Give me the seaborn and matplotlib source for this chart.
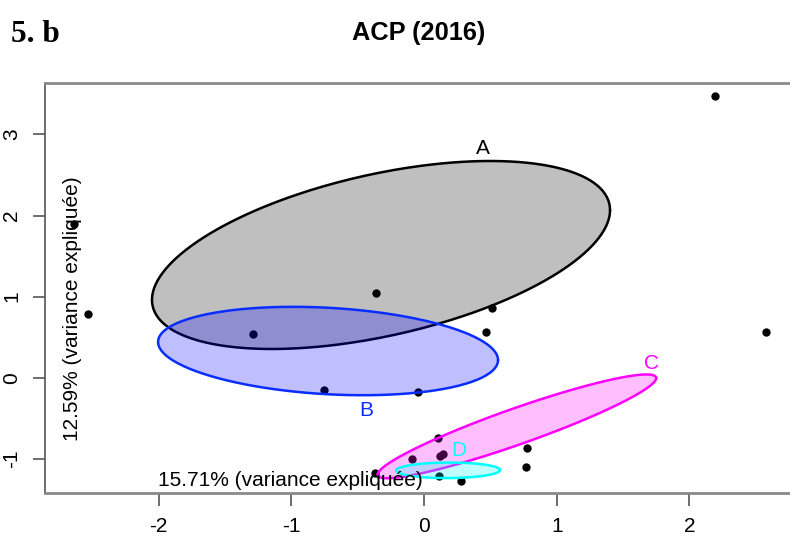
import numpy as np
import pandas as pd
import matplotlib
matplotlib.use("Agg")
import matplotlib.pyplot as plt
import seaborn as sns

# ---- data ----
pt_x = [2.19, 2.58, -0.36, 0.515, 0.465, -1.286, -2.53, -2.64, -0.751, -0.047,
        0.103, -0.093, 0.12, 0.145, -0.37, 0.115, 0.277, 0.778, 0.77]
pt_y = [3.47, 0.56, 1.05, 0.86, 0.56, 0.54, 0.78, 1.89, -0.15, -0.18,
        -0.747, -1.0, -0.97, -0.94, -1.17, -1.21, -1.27, -0.87, -1.10]

groups = ["A", "B", "C", "D"]
ell_cx = [-0.324, -0.723, 0.70, 0.181]
ell_cy = [1.513, 0.329, -0.60, -1.142]
ell_sx = [1.726, 1.281, 1.05, 0.392]
ell_sy = [1.159, 0.545, 0.64, 0.096]
ell_r = [0.477, -0.205, 0.93, 0.03]
ell_edge = ["#000000", "#0A2DFF", "#FF00FF", "#00FFFF"]
ell_fill = ["#000000", "#0000FF", "#FF00FF", "#00FFFF"]
lab_x = [0.442, -0.432, 1.716, 0.264]
lab_y = [2.82, -0.407, 0.178, -0.892]

x_ticks = [-2, -1, 0, 1, 2]
y_ticks = [-1, 0, 1, 2, 3]

sns.set_style("white")
plt.rcParams["font.family"] = ["Liberation Sans", "DejaVu Sans"]
plt.rcParams["text.color"] = "black"
plt.rcParams["xtick.color"] = "black"
plt.rcParams["ytick.color"] = "black"

fig = plt.figure(figsize=(7.9, 5.48), dpi=100)
W, H = 790, 548
left_px, right_px, top_px, bot_px = 45, 800, 83, 493
ax = fig.add_axes([left_px / W, (H - bot_px) / H, (right_px - left_px) / W, (bot_px - top_px) / H])

df = pd.DataFrame({"x": pt_x, "y": pt_y})
sns.scatterplot(data=df, x="x", y="y", ax=ax, color="black", s=36, linewidth=0, zorder=2)

t = np.linspace(0, 2 * np.pi, 300)
for i, g in enumerate(groups):
    sx, sy, r = ell_sx[i], ell_sy[i], ell_r[i]
    ex = ell_cx[i] + sx * np.cos(t)
    ey = ell_cy[i] + r * sy * np.cos(t) + sy * np.sqrt(1 - r ** 2) * np.sin(t)
    ax.fill(ex, ey, color=ell_fill[i], alpha=0.25, linewidth=0, zorder=3 + i)
    ax.plot(ex, ey, color=ell_edge[i], linewidth=1.8, zorder=3 + i)
    ax.text(lab_x[i], lab_y[i], g, color=ell_edge[i], fontsize=15,
            ha="center", va="center", zorder=10)

x0 = 424
xs = 132.7
y0 = 377.7
ys = 81.1
ax.set_xlim((left_px - x0) / xs, (right_px - x0) / xs)
ax.set_ylim((y0 - bot_px) / ys, (y0 - top_px) / ys)
ax.set_xticks(x_ticks)
ax.set_yticks(y_ticks)
ax.set_xticklabels([str(v) for v in x_ticks], fontsize=15)
ax.set_yticklabels([str(v) for v in y_ticks], fontsize=15, rotation=90, va="center")
ax.tick_params(axis="both", direction="out", length=9, width=1.2, color="#555555",
               labelcolor="black", bottom=True, left=True, pad=8)
ax.set_xlabel("")
ax.set_ylabel("")
for s in ["top", "bottom"]:
    ax.spines[s].set_color("#8a8a8a")
    ax.spines[s].set_linewidth(2)
ax.spines["left"].set_color("#555555")
ax.spines["left"].set_linewidth(1.2)
ax.spines["right"].set_visible(False)

# axis titles drawn inside the plot
fig.text(290 / W, 1 - 481 / H, "15.71% (variance expliquée)", fontsize=15,
         ha="center", va="center", zorder=20)
fig.text(73 / W, 1 - 309 / H, "12.59% (variance expliquée)", fontsize=15,
         ha="center", va="center", rotation=90, zorder=20)

fig.text(419 / W, 1 - 33 / H, "ACP (2016)", fontsize=18.3, fontweight="bold",
         ha="center", va="center")
fig.text(11 / W, 1 - 35 / H, "5. b", fontsize=22.5, fontweight="bold",
         family=["Liberation Serif", "DejaVu Serif"], ha="left", va="center")

fig.savefig("out.png", dpi=100)
